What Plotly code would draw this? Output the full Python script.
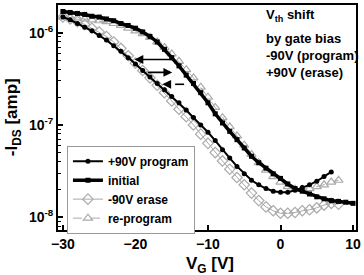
import plotly.graph_objects as go

# Gate voltage grid (V)
vg = [-30, -29, -28, -27, -26, -25, -24, -23, -22, -21, -20, -19, -18, -17, -16,
      -15, -14, -13, -12, -11, -10, -9, -8, -7, -6, -5, -4, -3, -2, -1, 0,
      1, 2, 3, 4, 5, 6, 7, 8, 9, 10]

# -I_DS (A)
ids_program = [1.48e-6, 1.38e-6, 1.26e-6, 1.15e-6, 1.05e-6, 9.33e-7, 8.32e-7, 7.24e-7,
               6.31e-7, 5.37e-7, 4.57e-7, 3.89e-7, 3.31e-7, 2.82e-7, 2.40e-7, 2.04e-7,
               1.74e-7, 1.45e-7, 1.20e-7, 1.00e-7, 8.32e-8, 6.76e-8, 5.37e-8, 4.37e-8,
               3.55e-8, 2.95e-8, 2.51e-8, 2.24e-8, 2.04e-8, 1.91e-8, 1.86e-8, 1.86e-8,
               1.95e-8, 2.09e-8, 2.24e-8, 2.45e-8, 2.75e-8, 3.09e-8]
ids_initial = [1.70e-6, 1.66e-6, 1.62e-6, 1.58e-6, 1.51e-6, 1.48e-6, 1.41e-6, 1.35e-6,
               1.26e-6, 1.20e-6, 1.12e-6, 1.02e-6, 9.12e-7, 7.94e-7, 6.61e-7, 5.37e-7,
               4.37e-7, 3.47e-7, 2.82e-7, 2.24e-7, 1.74e-7, 1.32e-7, 1.05e-7, 8.51e-8,
               6.92e-8, 5.62e-8, 4.57e-8, 3.89e-8, 3.39e-8, 2.95e-8, 2.63e-8, 2.29e-8,
               2.04e-8, 1.91e-8, 1.78e-8, 1.66e-8, 1.58e-8, 1.51e-8, 1.48e-8, 1.45e-8,
               1.41e-8]
ids_erase = [1.48e-6, 1.41e-6, 1.32e-6, 1.23e-6, 1.12e-6, 1.02e-6, 9.12e-7, 7.94e-7,
             6.76e-7, 5.62e-7, 4.68e-7, 3.89e-7, 3.24e-7, 2.69e-7, 2.24e-7, 1.82e-7,
             1.48e-7, 1.23e-7, 1.00e-7, 7.94e-8, 6.31e-8, 5.01e-8, 4.07e-8, 3.31e-8,
             2.69e-8, 2.24e-8, 1.82e-8, 1.51e-8, 1.29e-8, 1.17e-8, 1.10e-8, 1.10e-8,
             1.12e-8, 1.17e-8, 1.20e-8, 1.26e-8, 1.35e-8, 1.41e-8, 1.38e-8]
ids_reprogram = [1.48e-6, 1.45e-6, 1.45e-6, 1.41e-6, 1.38e-6, 1.35e-6, 1.32e-6, 1.26e-6,
                 1.20e-6, 1.12e-6, 1.05e-6, 9.77e-7, 8.91e-7, 7.94e-7, 6.92e-7, 5.89e-7,
                 4.90e-7, 3.98e-7, 3.24e-7, 2.57e-7, 2.00e-7, 1.55e-7, 1.20e-7, 9.55e-8,
                 7.59e-8, 6.03e-8, 4.79e-8, 3.89e-8, 3.24e-8, 2.75e-8, 2.40e-8, 2.14e-8,
                 2.00e-8, 2.00e-8, 2.04e-8, 2.14e-8, 2.24e-8, 2.40e-8, 2.51e-8]

x_ticks = [-30, -20, -10, 0, 10]
y_ticks = [1e-8, 1e-7, 1e-6]
y_ticktext = ["10<sup>-8</sup>", "10<sup>-7</sup>", "10<sup>-6</sup>"]
y_minor = [m * 10.0 ** e for e in (-9, -8, -7, -6) for m in range(2, 10)]

note_lines = ["V<sub>th</sub> shift", "by gate bias", "-90V (program)", "+90V (erase)"]

FONT = "Liberation Sans, Arial, sans-serif"
GRAY = "#aaaaaa"

fig = go.Figure()
fig.add_trace(go.Scatter(
    x=vg[:len(ids_erase)], y=ids_erase, name="-90V erase", legendrank=3,
    mode="lines+markers", line=dict(color=GRAY, width=1),
    marker=dict(symbol="diamond-open", size=8, color=GRAY, line=dict(width=1.2))))
fig.add_trace(go.Scatter(
    x=vg[:len(ids_reprogram)], y=ids_reprogram, name="re-program", legendrank=4,
    mode="lines+markers", line=dict(color=GRAY, width=1, dash="dash"),
    marker=dict(symbol="triangle-up-open", size=8, color=GRAY, line=dict(width=1.2))))
fig.add_trace(go.Scatter(
    x=vg[:len(ids_initial)], y=ids_initial, name="initial", legendrank=2,
    mode="lines+markers", line=dict(color="black", width=3.5),
    marker=dict(symbol="square", size=5, color="black")))
fig.add_trace(go.Scatter(
    x=vg[:len(ids_program)], y=ids_program, name="+90V program", legendrank=1,
    mode="lines+markers", line=dict(color="black", width=2),
    marker=dict(symbol="circle", size=5, color="black")))

axis_common = dict(showline=True, linewidth=2, linecolor="black", mirror=True,
                   showgrid=False, zeroline=False, ticks="inside", ticklen=5,
                   tickwidth=1.5, tickcolor="black",
                   tickfont=dict(family=FONT, size=14, color="black", weight="bold"))

fig.update_layout(
    width=364, height=275,
    margin=dict(l=58, r=6, t=3, b=45),
    paper_bgcolor="white", plot_bgcolor="white",
    showlegend=True,
    legend=dict(x=0.03, y=0.375, xanchor="left", yanchor="top",
                bgcolor="white", bordercolor="#999999", borderwidth=1,
                font=dict(family=FONT, size=12, color="black", weight="bold"),
                tracegroupgap=0, itemwidth=30),
    xaxis=dict(range=[-30.68, 10.41], tickvals=x_ticks, **axis_common),
    yaxis=dict(type="log", range=[-8.14, -5.699], tickvals=y_ticks,
               ticktext=y_ticktext,
               minor=dict(tickvals=y_minor, ticks="inside", ticklen=3,
                          tickcolor="black", tickwidth=1),
               **axis_common),
)

# axis titles
fig.add_annotation(text="-I<sub>DS</sub> [amp]", xref="paper", yref="paper",
                   x=-0.152, y=0.5, textangle=-90, showarrow=False,
                   xanchor="center", yanchor="middle",
                   font=dict(family=FONT, size=17, color="black", weight="bold"))
fig.add_annotation(text="V<sub>G</sub> [V]", xref="paper", yref="paper",
                   x=0.51, y=-0.155, showarrow=False, xanchor="center", yanchor="middle",
                   font=dict(family=FONT, size=17, color="black", weight="bold"))

# note text at top right
note_y = [0.955, 0.852, 0.774, 0.700]
for t, yy in zip(note_lines, note_y):
    fig.add_annotation(text=t, xref="paper", yref="paper", x=0.69, y=yy,
                       xanchor="left", yanchor="middle", showarrow=False,
                       font=dict(family=FONT, size=13, color="black", weight="bold"))

# shift arrows
arrow_style = dict(xref="paper", yref="paper", text="", showarrow=True,
                   arrowhead=2, arrowsize=1.1, arrowwidth=1.6, arrowcolor="black",
                   ayref="pixel", axref="pixel")
fig.add_annotation(x=0.2567, y=0.7577, ax=40, ay=0, **arrow_style)
fig.add_annotation(x=0.3833, y=0.7004, ax=-26, ay=0, **arrow_style)
fig.add_annotation(x=0.35, y=0.6476, ax=10, ay=0, **arrow_style)
fig.add_shape(type="line", xref="paper", yref="paper",
              x0=0.393, x1=0.45, y0=0.6476, y1=0.6476,
              line=dict(color="black", width=1.6, dash="dash"))

fig.write_html("out.html")
